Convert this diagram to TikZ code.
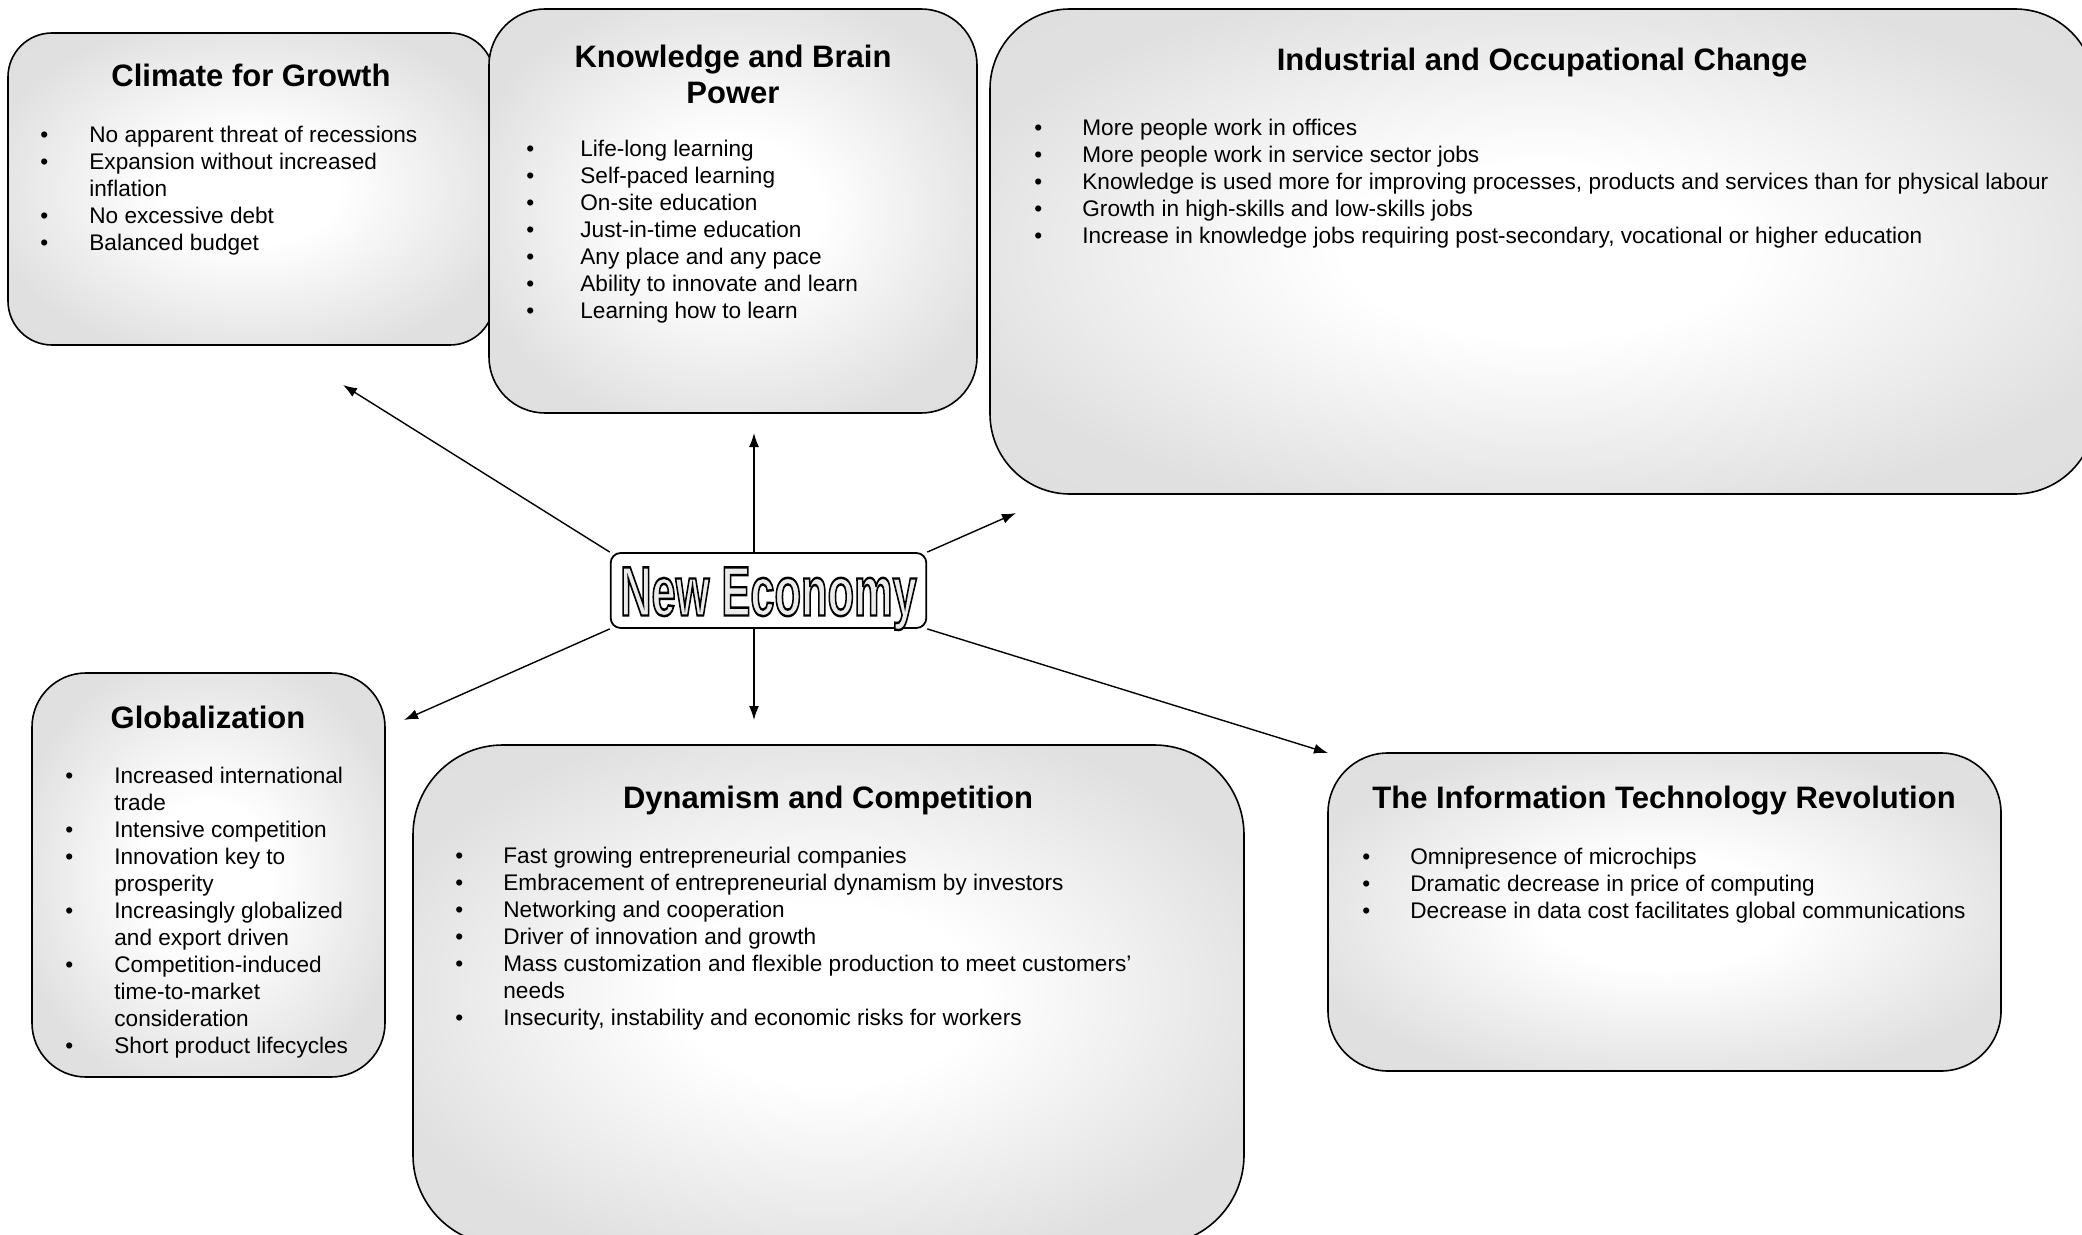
\documentclass[tikz,border=0pt]{standalone}
\usepackage{fontspec}
\setmainfont{Liberation Sans}
\newfontfamily\outlinefont[FakeBold=3.5]{Liberation Sans Bold}
\usepackage{graphicx}
\usepackage{tikz}
\usetikzlibrary{arrows.meta}
\pgfdeclareradialshading{panelshade}{\pgfpoint{0bp}{0bp}}{color(0bp)=(white); color(9bp)=(white); color(28bp)=(black!12); color(50bp)=(black!14)}
\newcommand{\point}{\textbullet &}
\newcommand{\pointlist}[2][24pt]{\begin{tabular}[t]{@{}p{#1}@{}l@{}}#2\end{tabular}}

\begin{document}
\begin{tikzpicture}[x=0.5pt,y=-0.5pt]
  \tikzset{panel/.style={draw,line width=0.8pt,shading=panelshade}}
  \tikzset{heading/.style={font=\fontsize{15.5}{18}\selectfont\bfseries,align=center,anchor=base}}
  \tikzset{items/.style={font=\fontsize{11.3}{13.5}\selectfont,anchor=base west,inner sep=0pt}}
  \tikzset{link/.style={->,>={Latex[length=7pt,width=5pt]},line width=0.7pt}}
  \useasboundingbox (0,0) rectangle (2082,1235);
  \clip (0,0) rectangle (2082,1235);
  % the six panels
  \node[panel,minimum width=243pt,minimum height=156pt,rounded corners=22pt] (climate) at (251,189) {};
  \node[panel,minimum width=244pt,minimum height=202pt,rounded corners=28pt] (knowledge) at (733,211) {};
  \node[panel,minimum width=552.5pt,minimum height=242.5pt,rounded corners=40pt] (industry) at (1542.5,251.5) {};
  \node[panel,minimum width=176.5pt,minimum height=202pt,rounded corners=27pt] (global) at (208.5,875) {};
  \node[panel,minimum width=415.5pt,minimum height=250pt,rounded corners=45pt] (dynamism) at (828.5,995) {};
  \node[panel,minimum width=336.5pt,minimum height=159pt,rounded corners=30pt] (infotech) at (1664.5,912) {};
  % headings
  \node[heading] (climatehead) at (251,87) {Climate for Growth};
  \node[heading,anchor=center] (knowhead) at (733,74) {Knowledge and Brain\\Power};
  \node[heading] (industryhead) at (1542,71) {Industrial and Occupational Change};
  \node[heading] (globalhead) at (208,728) {Globalization};
  \node[heading] (dynamismhead) at (828,808) {Dynamism and Competition};
  \node[heading] (infotechhead) at (1664,808) {The Information Technology Revolution};
  % bullet points
  \node[items] (climatelist) at (40,142.5) {\pointlist[24.5pt]{\point No apparent threat of recessions\\ \point Expansion without increased\\ & inflation\\ \point No excessive debt\\ \point Balanced budget}};
  \node[items] (knowlist) at (526,157) {\pointlist[27pt]{\point Life-long learning\\ \point Self-paced learning\\ \point On-site education\\ \point Just-in-time education\\ \point Any place and any pace\\ \point Ability to innovate and learn\\ \point Learning how to learn}};
  \node[items] (industrylist) at (1034,136) {\pointlist{\point More people work in offices\\ \point More people work in service sector jobs\\ \point Knowledge is used more for improving processes, products and services than for physical labour\\ \point Growth in high-skills and low-skills jobs\\ \point Increase in knowledge jobs requiring post-secondary, vocational or higher education}};
  \node[items] (globallist) at (65,783) {\pointlist[24.5pt]{\point Increased international\\ & trade\\ \point Intensive competition\\ \point Innovation key to\\ & prosperity\\ \point Increasingly globalized\\ & and export driven\\ \point Competition-induced\\ & time-to-market\\ & consideration\\ \point Short product lifecycles}};
  \node[items] (dynamismlist) at (455,863) {\pointlist{\point Fast growing entrepreneurial companies\\ \point Embracement of entrepreneurial dynamism by investors\\ \point Networking and cooperation\\ \point Driver of innovation and growth\\ \point Mass customization and flexible production to meet customers’\\ & needs\\ \point Insecurity, instability and economic risks for workers}};
  \node[items] (infotechlist) at (1362,864) {\pointlist{\point Omnipresence of microchips\\ \point Dramatic decrease in price of computing\\ \point Decrease in data cost facilitates global communications}};
  % centre
  \node[draw,line width=0.9pt,rounded corners=5pt,fill=white,inner xsep=4.75pt,inner ysep=6.25pt,text height=25pt,text depth=0pt] (economy) at (768.5,590.5) {\scalebox{0.62}[1]{\outlinefont\fontsize{35}{40}\selectfont\color{black!8}\special{pdf:literal direct 0 G}New Economy}};
  \coordinate (toclimate) at (343,385);
  \coordinate (toknow) at (754,433);
  \coordinate (toindustry) at (1016,513);
  \coordinate (toglobal) at (404,720);
  \coordinate (todynamism) at (754,720);
  \coordinate (toinfotech) at (1328,753);
  \draw[link] (economy.north west) -- (toclimate);
  \draw[link] (economy.north -| toknow) -- (toknow);
  \draw[link] (economy.north east) -- (toindustry);
  \draw[link] (economy.south west) -- (toglobal);
  \draw[link] (economy.south -| todynamism) -- (todynamism);
  \draw[link] (economy.south east) -- (toinfotech);
\end{tikzpicture}
\end{document}
